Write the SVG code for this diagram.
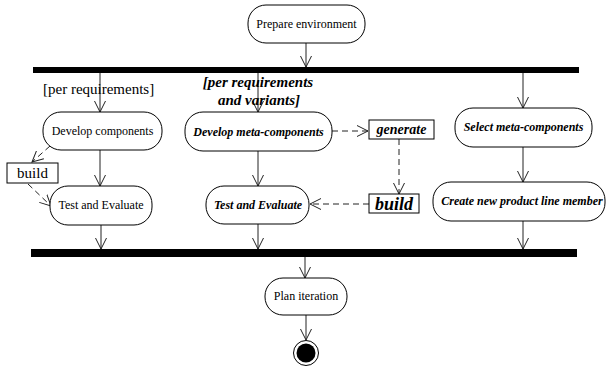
<svg xmlns="http://www.w3.org/2000/svg" width="607" height="367" viewBox="0 0 607 367">
<style>
  .node { fill: #fff; stroke: #000; stroke-width: 1; }
  .box { fill: #fff; stroke: #000; stroke-width: 1; }
  .bar { fill: #000; }
  .t { font-family: "Liberation Serif", "Times New Roman", serif; font-size: 12px; fill: #000; text-anchor: middle; }
  .bi { font-weight: bold; font-style: italic; }
  .flow { stroke: #222; stroke-width: 1; fill: none; marker-end: url(#arr); }
  .dep { stroke: #222; stroke-width: 1; fill: none; stroke-dasharray: 6 4; marker-end: url(#arr); }
</style>
<defs>
  <marker id="arr" markerUnits="userSpaceOnUse" viewBox="0 0 12 12" refX="11" refY="6" markerWidth="12" markerHeight="12" orient="auto">
    <path d="M0,0.5 L11,6 L0,11.5" fill="none" stroke="#222" stroke-width="1" stroke-dasharray="none"/>
  </marker>
</defs>

<g id="connectors">
  <line class="flow" x1="306" y1="43" x2="306" y2="67"/>
  <line class="flow" x1="100" y1="73" x2="100" y2="112"/>
  <line class="flow" x1="258" y1="73" x2="258" y2="112"/>
  <line class="flow" x1="523" y1="73" x2="523" y2="108"/>
  <line class="flow" x1="100" y1="150" x2="100" y2="186"/>
  <line class="flow" x1="258" y1="151" x2="258" y2="186"/>
  <line class="flow" x1="523" y1="147" x2="523" y2="182"/>
  <line class="flow" x1="101" y1="225" x2="101" y2="249"/>
  <line class="flow" x1="258" y1="224" x2="258" y2="249"/>
  <line class="flow" x1="523" y1="221" x2="523" y2="249"/>
  <line class="flow" x1="305" y1="257" x2="305" y2="278"/>
  <line class="flow" x1="306" y1="315" x2="306" y2="340"/>
  <line class="dep" x1="50" y1="146" x2="32" y2="162"/>
  <line class="dep" x1="28" y1="184" x2="51" y2="206"/>
  <line class="dep" x1="332" y1="131" x2="368" y2="131"/>
  <line class="dep" x1="399" y1="139" x2="399" y2="194"/>
  <line class="dep" x1="369" y1="204" x2="310" y2="204"/>
</g>

<g id="fork">
  <rect class="bar" x="33" y="67" width="546" height="6"/>
</g>
<g id="join">
  <rect class="bar" x="31" y="249" width="546" height="8"/>
</g>

<g id="guard1">
  <text class="t" x="43" y="94" style="font-size:15px;text-anchor:start">[per requirements]</text>
</g>
<g id="guard2">
  <text class="t bi" x="258" y="87" style="font-size:15px">[per requirements</text>
  <text class="t bi" x="259" y="105" style="font-size:15px">and variants]</text>
</g>

<g id="prepare">
  <rect class="node" x="248" y="5" width="117" height="38" rx="18"/>
  <text class="t" x="306.5" y="28">Prepare environment</text>
</g>
<g id="develop">
  <rect class="node" x="43" y="112" width="119" height="38" rx="18"/>
  <text class="t" x="102.5" y="135">Develop components</text>
</g>
<g id="build1">
  <rect class="box" x="7" y="163" width="51" height="20"/>
  <text class="t" x="32.5" y="178" style="font-size:15px">build</text>
</g>
<g id="test1">
  <rect class="node" x="50" y="186" width="102" height="39" rx="18"/>
  <text class="t" x="101" y="209">Test and Evaluate</text>
</g>
<g id="developmeta">
  <rect class="node" x="185" y="112" width="147" height="39" rx="18"/>
  <text class="t bi" x="258.5" y="135.5">Develop meta-components</text>
</g>
<g id="generate">
  <rect class="box" x="369" y="120" width="65" height="19"/>
  <text class="t bi" x="401.5" y="134" style="font-size:14px">generate</text>
</g>
<g id="build2">
  <rect class="box" x="369" y="194" width="50" height="19"/>
  <text class="t bi" x="394" y="210" style="font-size:18px">build</text>
</g>
<g id="test2">
  <rect class="node" x="206" y="186" width="103" height="38" rx="18"/>
  <text class="t bi" x="258" y="209">Test and Evaluate</text>
</g>
<g id="select">
  <rect class="node" x="455" y="108" width="137" height="39" rx="18"/>
  <text class="t bi" x="523.5" y="131">Select meta-components</text>
</g>
<g id="create">
  <rect class="node" x="433" y="182" width="172" height="39" rx="18"/>
  <text class="t bi" x="522" y="205">Create new product line member</text>
</g>
<g id="plan">
  <rect class="node" x="265" y="278" width="82" height="37" rx="18"/>
  <text class="t" x="306" y="300">Plan iteration</text>
</g>
<g id="final">
  <circle cx="306" cy="353" r="12.5" fill="#fff" stroke="#000" stroke-width="1"/>
  <circle cx="306" cy="353" r="9.5" fill="#000"/>
</g>
</svg>
